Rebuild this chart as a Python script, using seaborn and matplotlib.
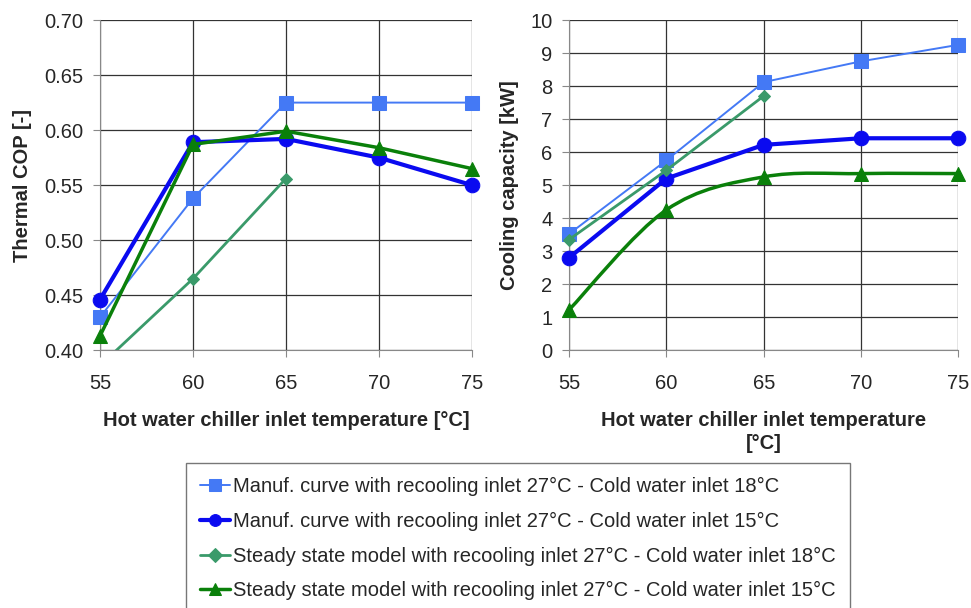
""" Chiller performance: thermal COP and cooling capacity vs hot water inlet temperature """

import numpy as np
import pandas as pd
import matplotlib
matplotlib.use('Agg')
import matplotlib.pyplot as plt
from matplotlib.path import Path
from matplotlib.patches import PathPatch
import seaborn as sns

#############
# Arguments #
#############
sns.set_style('white')
plt.rcParams['font.family'] = ['Liberation Sans', 'DejaVu Sans']
DPI = 100

temps = [55, 60, 65, 70, 75]
temps_model18 = [55, 60, 65]

labels = [
    'Manuf. curve with recooling inlet 27°C - Cold water inlet 18°C',
    'Manuf. curve with recooling inlet 27°C - Cold water inlet 15°C',
    'Steady state model with recooling inlet 27°C - Cold water inlet 18°C',
    'Steady state model with recooling inlet 27°C - Cold water inlet 15°C',
]

# Thermal COP [-]
cop_manuf18 = [0.430, 0.538, 0.625, 0.625, 0.625]
cop_manuf15 = [0.446, 0.589, 0.592, 0.575, 0.550]
cop_model18 = [0.386, 0.465, 0.556]
cop_model15 = [0.413, 0.587, 0.599, 0.584, 0.565]

# Cooling capacity [kW]
cap_manuf18 = [3.52, 5.75, 8.12, 8.75, 9.25]
cap_manuf15 = [2.80, 5.20, 6.22, 6.42, 6.42]
cap_model18 = [3.35, 5.45, 7.70]
cap_model15 = [1.22, 4.25, 5.25, 5.35, 5.35]

styles = [
    dict(color='#4479f5', marker='s', lw=1.4, ms=10.5),
    dict(color='#0a0af0', marker='o', lw=3.0, ms=10.5),
    dict(color='#3a9a6a', marker='D', lw=2.0, ms=6.5),
    dict(color='#0a800a', marker='^', lw=2.5, ms=10),
]
legend_ms = [8.5, 8.5, 7, 8.5]


def smooth_path(xs, ys):
    # Catmull-Rom spline written as cubic Bezier segments (Excel-style smoothing)
    p = np.column_stack([xs, ys]).astype(float)
    ext = np.vstack([p[0], p, p[-1]])
    verts = [p[0]]
    codes = [Path.MOVETO]
    for i in range(1, len(ext) - 2):
        c1 = ext[i] + (ext[i + 1] - ext[i - 1]) / 6
        c2 = ext[i + 1] - (ext[i + 2] - ext[i]) / 6
        verts += [c1, c2, ext[i + 1]]
        codes += [Path.CURVE4] * 3
    return Path(verts, codes)


def style_axes(ax, ylim, yticks, ylabel, xlabel, ylabelpad, xlabelpad):
    ax.set_xlim(55, 75)
    ax.set_ylim(*ylim)
    ax.set_xticks(temps)
    ax.set_yticks(yticks)
    ax.grid(True, color='#333333', lw=0.9)
    ax.set_axisbelow(True)
    for side in ['top', 'right']:
        ax.spines[side].set_visible(False)
    for side in ['left', 'bottom']:
        ax.spines[side].set_color('#888888')
    ax.tick_params(axis='both', direction='out', length=5, color='#888888',
                   labelsize=14.5, left=True, bottom=True)
    ax.tick_params(axis='x', pad=12)
    ax.tick_params(axis='y', pad=7)
    ax.set_ylabel(ylabel, fontsize=14.5, fontweight='bold', labelpad=ylabelpad)
    ax.set_xlabel(xlabel, fontsize=14.5, fontweight='bold', labelpad=xlabelpad,
                  linespacing=1.3)


#################
# Plot          #
#################
fig = plt.figure(figsize=(9.71, 6.08), dpi=DPI)
ax1 = fig.add_axes([0.103, 0.424, 0.383, 0.543])
ax2 = fig.add_axes([0.586, 0.424, 0.401, 0.543])

# Left: Thermal COP
cop_sets = [(temps, cop_manuf18), (temps, cop_manuf15),
            (temps_model18, cop_model18), (temps, cop_model15)]
for (x, y), st, lab in zip(cop_sets, styles, labels):
    df = pd.DataFrame({'t': x, 'v': y})
    sns.lineplot(data=df, x='t', y='v', ax=ax1, color=st['color'],
                 marker=st['marker'], lw=st['lw'], ms=st['ms'],
                 markeredgecolor=st['color'], label=lab,
                 clip_on=(lab == labels[2]), zorder=3)

# Right: Cooling capacity
cap_sets = [(temps, cap_manuf18), (temps, cap_manuf15),
            (temps_model18, cap_model18)]
for (x, y), st in zip(cap_sets, styles[:3]):
    df = pd.DataFrame({'t': x, 'v': y})
    sns.lineplot(data=df, x='t', y='v', ax=ax2, color=st['color'],
                 marker=st['marker'], lw=st['lw'], ms=st['ms'],
                 markeredgecolor=st['color'], clip_on=False, zorder=3)

# Smoothed curve for the steady state model, 15°C
st = styles[3]
ax2.add_patch(PathPatch(smooth_path(temps, cap_model15), fill=False,
                        edgecolor=st['color'], lw=st['lw'], zorder=3))
df = pd.DataFrame({'t': temps, 'v': cap_model15})
sns.scatterplot(data=df, x='t', y='v', ax=ax2, color=st['color'],
                marker=st['marker'], s=st['ms'] ** 2, edgecolor=st['color'],
                clip_on=False, zorder=4)

style_axes(ax1, (0.40, 0.70), np.arange(0.40, 0.701, 0.05),
           'Thermal COP [-]', 'Hot water chiller inlet temperature [°C]', 9, 13)
ax1.set_yticklabels([f'{v:.2f}' for v in np.arange(0.40, 0.701, 0.05)])
style_axes(ax2, (0, 10), range(0, 11),
           'Cooling capacity [kW]', 'Hot water chiller inlet temperature\n[°C]', 8, 13)

handles, labs = ax1.get_legend_handles_labels()
ax1.get_legend().remove()
leg = fig.legend(handles, labs, loc='upper left',
                 bbox_to_anchor=(186 / 971, 1 - 463 / 608),
                 fontsize=14.5, frameon=True, fancybox=False,
                 handlelength=1.5, handletextpad=0.15, labelspacing=0.78,
                 borderpad=0.7, borderaxespad=0)
leg.get_frame().set_edgecolor('#555555')
leg.get_frame().set_linewidth(1.0)
for h, m in zip(leg.legend_handles, legend_ms):
    h.set_markersize(m)

plt.savefig('out.png', dpi=DPI)
